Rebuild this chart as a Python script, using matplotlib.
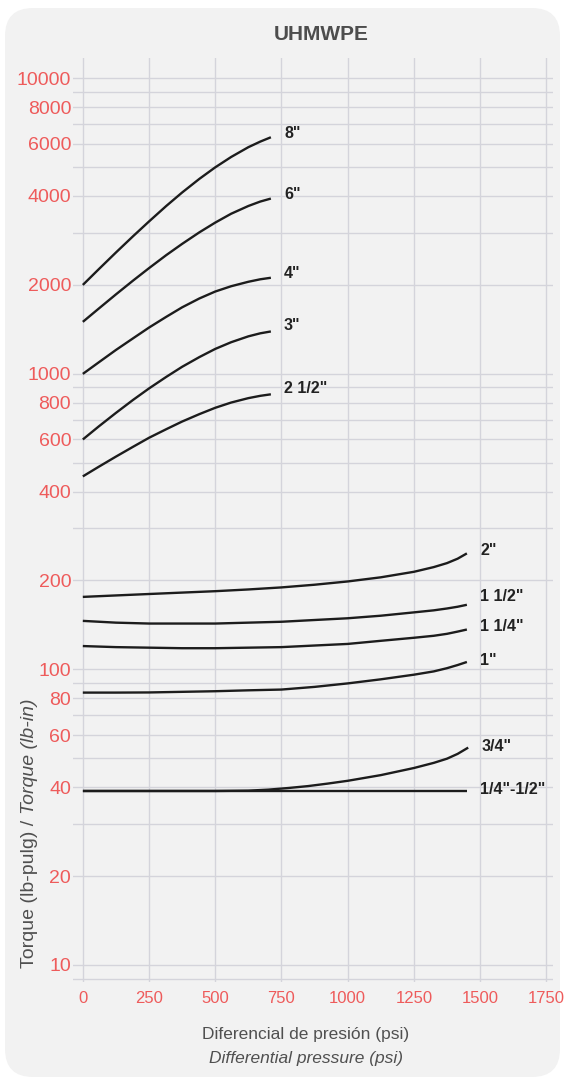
import numpy as np
import matplotlib.pyplot as plt
from matplotlib.patches import FancyBboxPatch
from matplotlib.ticker import FixedLocator, NullFormatter

# valores (psi, lb-pulg)
psi_big = [0, 60, 125, 190, 250, 315, 375, 440, 500, 560, 625, 670, 710]
torque_8 = [2000, 2260, 2575, 2925, 3280, 3700, 4110, 4570, 5000, 5420, 5850, 6110, 6320]
torque_6 = [1500, 1663, 1858, 2070, 2280, 2523, 2754, 3013, 3251, 3483, 3700, 3830, 3920]
torque_4 = [1000, 1094, 1205, 1320, 1435, 1560, 1680, 1800, 1900, 1980, 2050, 2090, 2115]
torque_3 = [600, 664, 738, 817, 893, 977, 1057, 1140, 1215, 1280, 1340, 1372, 1392]
torque_2_5 = [450, 485, 525, 567, 608, 650, 690, 731, 768, 800, 828, 843, 853]

psi_small = [0, 125, 250, 375, 500, 625, 750, 875, 1000, 1125, 1250, 1325, 1375, 1415, 1450]
torque_2 = [176, 178, 180, 182, 184, 186.5, 189.5, 193.5, 198.5, 205, 214, 222, 229, 237, 247]
torque_1_5 = [146, 144, 143, 143, 143, 144, 145, 147, 149, 152, 156, 158.5, 160.8, 163, 165.5]
torque_1_25 = [120, 119, 118.5, 118, 118, 118.5, 119, 120.5, 122, 125, 128, 130, 132, 134.3, 136.5]
torque_1 = [83.5, 83.5, 83.6, 84, 84.4, 85, 85.5, 87.3, 89.7, 92.6, 96, 98.5, 101, 103.5, 106]

psi_34 = [0, 500, 625, 700, 775, 850, 925, 1000, 1125, 1250, 1325, 1375, 1415, 1455]
torque_34 = [38.8, 38.8, 38.9, 39.2, 39.7, 40.3, 41.1, 42, 43.9, 46.4, 48.3, 49.9, 51.8, 54.4]
psi_14 = [0, 1450]
torque_14 = [38.8, 38.8]

labels = ['8"', '6"', '4"', '3"', '2 1/2"', '2"', '1 1/2"', '1 1/4"', '1"', '3/4"', '1/4"-1/2"']

xticks = [0, 250, 500, 750, 1000, 1250, 1500, 1750]
yticks = [10, 20, 40, 60, 80, 100, 200, 400, 600, 800, 1000, 2000, 4000, 6000, 8000, 10000]

font = 'Liberation Sans'
red = '#ee5b5b'
grey = '#505050'
gridc = '#d4d4db'

fig = plt.figure(figsize=(5.65, 10.82), dpi=100)
fig.patch.set_facecolor('white')

panel = FancyBboxPatch((0.05, 0.05), 5.55, 10.69,
                       boxstyle='round,pad=0,rounding_size=0.28',
                       transform=fig.dpi_scale_trans,
                       facecolor='#f2f2f2', edgecolor='none', zorder=-10)
fig.patches.append(panel)

ax = fig.add_axes([0.1297, 0.0927, 0.849, 0.8534])
ax.set_facecolor('none')
ax.set_yscale('log')
ax.set_xlim(-36, 1775)
ax.set_ylim(8.78, 11690)

curves = [(psi_big, torque_8), (psi_big, torque_6), (psi_big, torque_4),
          (psi_big, torque_3), (psi_big, torque_2_5),
          (psi_small, torque_2), (psi_small, torque_1_5), (psi_small, torque_1_25),
          (psi_small, torque_1), (psi_34, torque_34), (psi_14, torque_14)]
lift = [3, 3, 3, 4, 4, 2, 6, 2, 1, 1, 1]

for (xs, ys), lab, dy in zip(curves, labels, lift):
    ax.plot(xs, ys, color='#1c1c1c', linewidth=1.7, solid_capstyle='butt',
            solid_joinstyle='round', zorder=3)
    ax.annotate(lab, xy=(xs[-1], ys[-1]), xytext=(9.5, dy), textcoords='offset points',
                ha='left', va='center', fontsize=11.5, fontweight='bold',
                family=font, color='#222222')

ax.xaxis.set_major_locator(FixedLocator(xticks))
ax.set_xticklabels([str(v) for v in xticks], family=font, fontsize=12, color=red)

minor = [m * 10 ** d for d in range(0, 4) for m in range(2, 10)
         if m * 10 ** d not in yticks and m * 10 ** d > 8.78]
ax.yaxis.set_major_locator(FixedLocator(yticks))
ax.yaxis.set_minor_locator(FixedLocator(minor))
ax.yaxis.set_minor_formatter(NullFormatter())
ax.set_yticklabels([str(v) for v in yticks], family=font, fontsize=14, color=red)

ax.tick_params(axis='both', which='both', length=0)
ax.tick_params(axis='y', pad=1.5)
ax.tick_params(axis='x', pad=7)
ax.grid(True, which='both', color=gridc, linewidth=1.0)
ax.set_axisbelow(True)
for s in ax.spines.values():
    s.set_visible(False)

fig.text(321 / 565, 1 - 35 / 1082, 'UHMWPE', ha='center', va='center',
         fontsize=15, fontweight='bold', family=font, color='#4d4d4d')

fig.text(306 / 565, 1 - 1034 / 1082, 'Diferencial de presión (psi)', ha='center', va='center',
         fontsize=12.5, family=font, color=grey)
fig.text(306 / 565, 1 - 1058 / 1082, 'Differential pressure (psi)', ha='center', va='center',
         fontsize=12.5, family=font, style='italic', color=grey)

t1 = fig.text(30 / 565, 1 - 968 / 1082, 'Torque (lb-pulg) / ', rotation=90,
              ha='center', va='bottom', fontsize=14, family=font, color=grey)
t2 = ax.annotate('Torque (lb-in)', xy=(0.5, 1), xycoords=t1, rotation=90,
                 ha='center', va='bottom', fontsize=14, family=font, style='italic',
                 color=grey, annotation_clip=False)

plt.savefig('out.png', dpi=100, facecolor='white')
